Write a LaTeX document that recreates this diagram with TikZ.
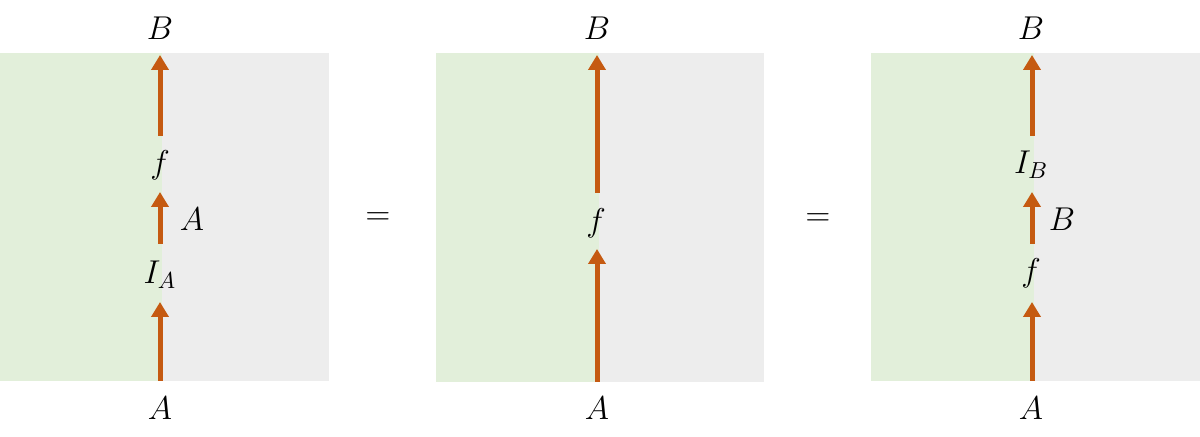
\RequirePackage{fix-cm}
\documentclass[tikz,border=0pt]{standalone}
\usetikzlibrary{arrows.meta}
\definecolor{panelgreen}{HTML}{E2EFDA}
\definecolor{panelgray}{HTML}{EDEDED}
\definecolor{wireorange}{HTML}{C55A11}
\tikzset{
  wire/.style={draw=wireorange, line width=2.5pt, -{Triangle[width=8.5pt,length=7.5pt]}},
  lbl/.style={inner sep=0pt, font=\fontsize{16.5}{19}\selectfont},
}
\begin{document}
\begin{tikzpicture}[x=0.5pt,y=-0.5pt]
\useasboundingbox (0,0) rectangle (1200,437);
% panels
\fill[panelgreen] (0,53) rectangle (162,381);
\fill[panelgray] (162,53) rectangle (329,381);
\fill[panelgreen] (436,53) rectangle (599,382);
\fill[panelgray] (599,53) rectangle (764,382);
\fill[panelgreen] (871,53) rectangle (1034,381);
\fill[panelgray] (1034,53) rectangle (1200,381);
% left panel
\node[lbl] (LB) at (160,28) {$B$};
\node[lbl] (Lf) at (160,165) {$f$};
\node[lbl] (LAr) at (192,219) {$A$};
\node[lbl] (LIA) at (160,275) {$I_A$};
\node[lbl] (LA) at (160,408) {$A$};
\coordinate (l1s) at (160,381); \coordinate (l1e) at (160,302);
\coordinate (l2s) at (160,244); \coordinate (l2e) at (160,192);
\coordinate (l3s) at (160,136); \coordinate (l3e) at (160,55);
\draw[wire] (l1s) -- (l1e);
\draw[wire] (l2s) -- (l2e);
\draw[wire] (l3s) -- (l3e);
% equals
\node[lbl] (eq1) at (378,219) {$=$};
\node[lbl] (eq2) at (818,220) {$=$};
% middle panel
\node[lbl] (MB) at (597,28) {$B$};
\node[lbl] (Mf) at (596,223) {$f$};
\node[lbl] (MA) at (597,408) {$A$};
\coordinate (m1s) at (597,382); \coordinate (m1e) at (597,249);
\coordinate (m2s) at (597,193); \coordinate (m2e) at (597,55);
\draw[wire] (m1s) -- (m1e);
\draw[wire] (m2s) -- (m2e);
% right panel
\node[lbl] (RB) at (1031,28) {$B$};
\node[lbl] (RIB) at (1031,165) {$I_B$};
\node[lbl] (RBr) at (1062,219) {$B$};
\node[lbl] (Rf) at (1031,273) {$f$};
\node[lbl] (RA) at (1031,408) {$A$};
\coordinate (r1s) at (1032,381); \coordinate (r1e) at (1032,302);
\coordinate (r2s) at (1032,244); \coordinate (r2e) at (1032,192);
\coordinate (r3s) at (1032,136); \coordinate (r3e) at (1032,55);
\draw[wire] (r1s) -- (r1e);
\draw[wire] (r2s) -- (r2e);
\draw[wire] (r3s) -- (r3e);
\end{tikzpicture}
\end{document}
